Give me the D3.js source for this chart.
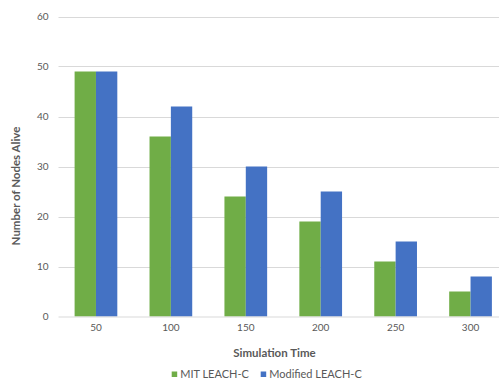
<!DOCTYPE html>
<html>
<head>
<meta charset="utf-8">
<script src="https://cdn.jsdelivr.net/npm/d3@7"></script>
<style>
  body { margin: 0; background: #fff; }
  svg { display: block; font-family: Lato, "Open Sans", sans-serif; }
</style>
</head>
<body>
<svg id="chart" width="499" height="383"></svg>
<script>
// Simulation times on the x axis
const categories = ["50", "100", "150", "200", "250", "300"];
// Nodes still alive for each protocol
const seriesNames = ["MIT LEACH-C", "Modified LEACH-C"];
const mitLeachC = [49, 36, 24, 19, 11, 5];
const modifiedLeachC = [49, 42, 30, 25, 15, 8];
const yTicks = [0, 10, 20, 30, 40, 50, 60];

const colors = ["#70AD47", "#4472C4"];
const series = [mitLeachC, modifiedLeachC];

const svg = d3.select("#chart");
const plotLeft = 58.5, plotRight = 508, plotTop = 16.5, plotBottom = 316.5;

const x = d3.scaleBand().domain(categories).range([plotLeft, plotRight]).paddingInner(0.43).paddingOuter(0.215);
const xs = d3.scaleBand().domain(seriesNames).range([0, x.bandwidth()]);
const y = d3.scaleLinear().domain([0, 60]).range([plotBottom, plotTop]);

// Horizontal gridlines
svg.append("g").selectAll("line").data(yTicks.filter(d => d > 0)).join("line")
  .attr("x1", plotLeft).attr("x2", 499)
  .attr("y1", d => Math.round(y(d)) + 0.5).attr("y2", d => Math.round(y(d)) + 0.5)
  .attr("stroke", "#d9d9d9").attr("stroke-width", 1);

// Y tick labels
const yAxis = d3.axisLeft(y).tickValues(yTicks).tickSize(0).tickPadding(0);
const gy = svg.append("g").attr("transform", `translate(${plotLeft - 10},0)`).call(yAxis);
gy.select(".domain").remove();
gy.selectAll("text").attr("fill", "#595959").style("font-size", "10px").style("font-family", "Lato, sans-serif");

// Bars
seriesNames.forEach((name, si) => {
  svg.append("g").selectAll("rect").data(series[si]).join("rect")
    .attr("x", (d, i) => x(categories[i]) + xs(name))
    .attr("y", d => y(d))
    .attr("width", xs.bandwidth())
    .attr("height", d => y(0) - y(d))
    .attr("fill", colors[si]);
});

// X axis baseline and labels
const xAxis = d3.axisBottom(x).tickSize(0).tickPadding(7);
const gx = svg.append("g").attr("transform", `translate(0,${plotBottom})`).call(xAxis);
gx.select(".domain").remove();
gx.selectAll("text").attr("fill", "#595959").style("font-size", "10px").style("font-family", "Lato, sans-serif");
svg.append("line").attr("x1", plotLeft).attr("x2", 499)
  .attr("y1", plotBottom + 0.5).attr("y2", plotBottom + 0.5)
  .attr("stroke", "#d9d9d9").attr("stroke-width", 1);

// Axis titles
svg.append("text").attr("x", 274.5).attr("y", 356.5)
  .attr("text-anchor", "middle").attr("fill", "#595959")
  .style("font-size", "11.5px").style("font-weight", "bold")
  .text("Simulation Time");
svg.append("text")
  .attr("transform", "translate(20,186) rotate(-90)")
  .attr("text-anchor", "middle").attr("fill", "#595959")
  .style("font-size", "11.5px").style("font-weight", "bold")
  .text("Number of Nodes Alive");

// Legend
const legendX = [171.7, 260.7];
const lg = svg.append("g");
seriesNames.forEach((name, i) => {
  lg.append("rect").attr("x", legendX[i]).attr("y", 371.5).attr("width", 5.5).attr("height", 5.5).attr("fill", colors[i]);
  lg.append("text").attr("x", legendX[i] + 8.5).attr("y", 377.5)
    .attr("fill", "#595959").style("font-size", "11px").text(name);
});
</script>
</body>
</html>
